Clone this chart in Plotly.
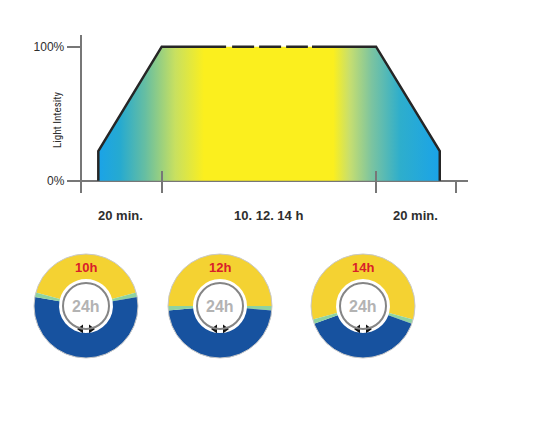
import plotly.graph_objects as go

# ---------------- data ----------------
# light profile (x in schematic minutes: 20 min ramp, plateau, 20 min ramp)
profile_x = [0, 0, 20, 87.6, 107.7, 107.7]
profile_y = [0, 22, 100, 100, 22, 0]
outline_left_x = [0, 0, 20, 40.3]
outline_left_y = [0, 22, 100, 100]
outline_right_x = [67.4, 87.6, 107.7, 107.7]
outline_right_y = [100, 100, 22, 0]
dashed_x = [42.2, 66.1]
dashed_y = [100, 100]
y_tick_vals = [0, 100]
y_tick_text = ["0%", "100%"]
x_major_ticks = [20, 87.6]
x_minor_ticks = [112.8]
seg_label_x = [7.0, 53.7, 100.1]
seg_labels = ["20 min.", "10. 12. 14 h", "20 min."]

# photoperiod rings
photoperiod_h = [10, 12, 14]
ring_labels = ["10h", "12h", "14h"]
twilight_h = 1 / 3
day_h = 24

# ---------------- layout helpers ----------------
OFF = 8                      # page body margin
FW, FH = 552 - OFF, 430 - OFF


def PX(p):
    return (p - OFF) / FW


def PY(p):
    return 1 - (p - OFF) / FH


NARROW = "Liberation Sans Narrow, Roboto Condensed, DejaVu Sans Condensed, Arial Narrow, sans-serif"
SANS = "Liberation Sans, Arial, Helvetica, sans-serif"
AX = "#777777"
TXT = "#2e2e2e"
YEL, GRN, BLU = "#f4d232", "#8fd3a0", "#17529f"
grad = [
    [0.0, "#1aa3e8"], [0.064, "#26aad0"], [0.137, "#66bea2"], [0.225, "#c8e060"],
    [0.31, "#fbef1e"], [0.688, "#fbef1e"], [0.737, "#c6de70"], [0.80, "#7cc4a0"],
    [0.884, "#2eaecc"], [1.0, "#1aa3e8"],
]

ring_cx = [86, 220, 363]
ring_cy = 306
R_OUT, R_IN, R_GRAY = 52, 27, 23

fig = go.Figure()

# gradient filled profile
fig.add_trace(go.Scatter(
    x=profile_x, y=profile_y, mode="lines", fill="toself",
    fillgradient=dict(type="horizontal", colorscale=grad),
    line=dict(width=0), hoverinfo="skip", showlegend=False))
for xs, ys in [(outline_left_x, outline_left_y), (outline_right_x, outline_right_y)]:
    fig.add_trace(go.Scatter(x=xs, y=ys, mode="lines", line=dict(color="#262626", width=2.5),
                             hoverinfo="skip", showlegend=False))
fig.add_trace(go.Scatter(x=dashed_x, y=dashed_y, mode="lines",
                         line=dict(color="#262626", width=2.5, dash="22px,5px"),
                         hoverinfo="skip", showlegend=False))

for lx, lt in zip(seg_label_x, seg_labels):
    fig.add_annotation(x=lx, y=PY(215), xref="x", yref="paper", text=f"<b>{lt}</b>", showarrow=False,
                       xanchor="center", yanchor="middle",
                       font=dict(family=SANS, size=13, color=TXT))
fig.add_annotation(x=PX(57), y=PY(120), xref="paper", yref="paper", text="Light Intesity",
                   xanchor="center", yanchor="middle",
                   textangle=-90, showarrow=False, font=dict(family=NARROW, size=11, color=TXT))

# rings
for cx, hrs, lab in zip(ring_cx, photoperiod_h, ring_labels):
    night = day_h - hrs - 2 * twilight_h
    fig.add_trace(go.Pie(
        values=[hrs, twilight_h, night, twilight_h],
        marker=dict(colors=[YEL, GRN, BLU, GRN], line=dict(width=0)),
        sort=False, direction="clockwise", rotation=-hrs / day_h * 360 / 2,
        hole=R_IN / R_OUT, textinfo="none", hoverinfo="skip", showlegend=False,
        domain=dict(x=[PX(cx - R_OUT), PX(cx + R_OUT)],
                    y=[PY(ring_cy + R_OUT), PY(ring_cy - R_OUT)])))
    fig.add_shape(type="circle", xref="x2", yref="y2", x0=cx - R_GRAY, x1=cx + R_GRAY,
                  y0=ring_cy - R_GRAY, y1=ring_cy + R_GRAY, line=dict(color="#858585", width=2))
    fig.add_shape(type="circle", xref="x2", yref="y2", x0=cx - R_OUT, x1=cx + R_OUT,
                  y0=ring_cy - R_OUT, y1=ring_cy + R_OUT, line=dict(color="#c8c8c8", width=1))
    fig.add_trace(go.Scatter(
        x=[cx - 5, cx + 5], y=[ring_cy + R_GRAY, ring_cy + R_GRAY], xaxis="x2", yaxis="y2",
        mode="markers", marker=dict(symbol=["triangle-left", "triangle-right"], size=8, color="#111"),
        hoverinfo="skip", showlegend=False))
    fig.add_annotation(x=cx, y=ring_cy - 39, xref="x2", yref="y2", text=f"<b>{lab}</b>",
                       xanchor="center", yanchor="middle",
                       showarrow=False, font=dict(family=SANS, size=13, color="#d9202a"))
    fig.add_annotation(x=cx, y=ring_cy, xref="x2", yref="y2", text="<b>24h</b>",
                       xanchor="center", yanchor="middle",
                       showarrow=False, font=dict(family=SANS, size=16, color="#b3b3b3"))

fig.update_layout(
    width=FW, height=FH, margin=dict(l=0, r=0, t=0, b=0),
    paper_bgcolor="white", plot_bgcolor="rgba(0,0,0,0)",
    xaxis=dict(domain=[PX(81.7), PX(468)], range=[-5.24, 116.6], showgrid=False, zeroline=False,
               showline=False, showticklabels=False, tickvals=x_major_ticks, ticks="inside",
               ticklen=22, tickwidth=2, tickcolor=AX,
               minor=dict(tickvals=x_minor_ticks, ticks="inside", ticklen=13, tickwidth=2, tickcolor=AX)),
    yaxis=dict(domain=[PY(193), PY(35)], range=[-9.2, 108.7], showgrid=False,
               zeroline=True, zerolinecolor=AX, zerolinewidth=2, showline=True, linecolor=AX, linewidth=2,
               tickvals=y_tick_vals, ticktext=y_tick_text, ticks="outside", ticklen=13, tickwidth=2,
               tickcolor=AX, tickfont=dict(family=SANS, size=12, color=TXT)),
    xaxis2=dict(domain=[0, 1], range=[OFF, OFF + FW], visible=False, anchor="y2"),
    yaxis2=dict(domain=[0, 1], range=[OFF + FH, OFF], visible=False, anchor="x2"),
)

fig.write_html("out.html")
